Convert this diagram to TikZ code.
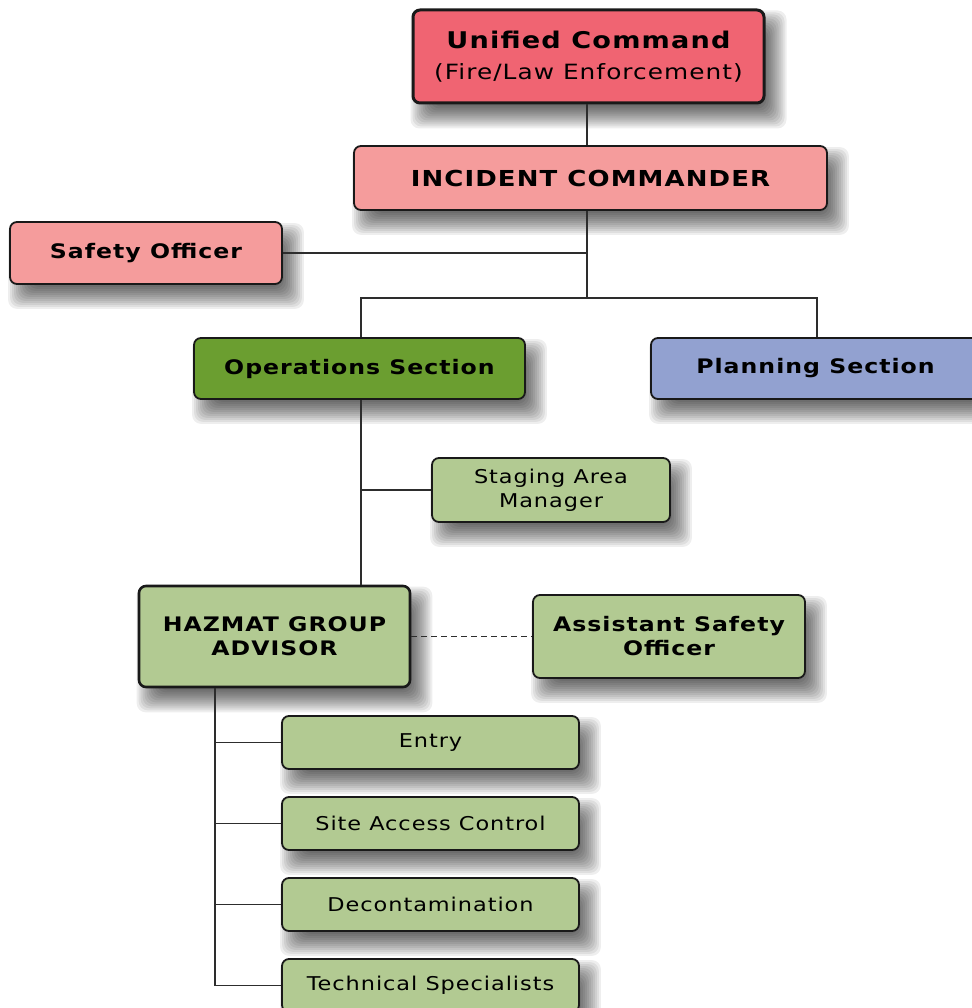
\documentclass[tikz,border=0pt]{standalone}
\usepackage{fontspec}
\setmainfont{DejaVu Sans}[FakeStretch=1.18,LetterSpace=5]
\definecolor{ucred}{RGB}{240,100,114}
\definecolor{pinkbox}{RGB}{245,156,156}
\definecolor{opsgreen}{RGB}{107,158,48}
\definecolor{planblue}{RGB}{146,161,208}
\definecolor{lightgreen}{RGB}{178,202,146}
\definecolor{edge}{RGB}{25,25,25}
\definecolor{wire}{RGB}{45,45,45}
\pgfdeclarelayer{bg}
\pgfsetlayers{bg,main}
\tikzset{
  box/.style={draw=edge, line width=1.8pt, rounded corners=7pt, align=center,
    inner sep=0pt, text=black},
  link/.style={draw=wire, line width=1.8pt},
  bigtxt/.style={font=\fontsize{20}{24}\selectfont\bfseries},
  smalltxt/.style={font=\fontsize{19}{24}\selectfont},
  shadowlayer/.style={fill=black, opacity=0.065, rounded corners=9pt},
}
% soft drop shadow: stacked translucent rounded rectangles, offset right and down
\newcommand\softshadow[1]{%
  \begin{pgfonlayer}{bg}
    \foreach \e in {11,9,...,-11}{
      \path[shadowlayer] ([shift={(10-\e,13-\e)}]#1.north west)
        rectangle ([shift={(10+\e,13+\e)}]#1.south east);
    }
  \end{pgfonlayer}}
\begin{document}
\begin{tikzpicture}[x=1pt,y=-1pt]
  \begin{pgfonlayer}{bg}
    \fill[white] (0,0) rectangle (971,1008);
  \end{pgfonlayer}
  \useasboundingbox (0,0) rectangle (971,1008);

  % command staff
  \node[box, fill=ucred, line width=3pt, minimum width=351pt, minimum height=93pt,
    font=\fontsize{21}{31}\selectfont] (uc) at (588.5,56.5)
    {{\fontsize{23}{31}\selectfont\bfseries Unified Command}\\(Fire/Law Enforcement)};
  \node[box, fill=pinkbox, minimum width=473pt, minimum height=64pt,
    font=\fontsize{22}{24}\selectfont\bfseries] (ic) at (590.5,178) {INCIDENT COMMANDER};
  \node[box, fill=pinkbox, minimum width=272pt, minimum height=62pt, bigtxt] (so) at (146,253) {Safety Officer};

  % sections
  \node[box, fill=opsgreen, minimum width=331pt, minimum height=61pt, bigtxt] (ops) at (359.5,368.5) {Operations Section};
  \node[box, fill=planblue, minimum width=329pt, minimum height=61pt, bigtxt] (plan) at (815.5,368.5) {Planning Section};

  % operations branch
  \node[box, fill=lightgreen, minimum width=238pt, minimum height=64pt, smalltxt] (stg) at (551,490) {Staging Area\\Manager};
  \node[box, fill=lightgreen, line width=2.6pt, minimum width=271pt, minimum height=101pt, bigtxt] (hz) at (274.5,636.5) {HAZMAT GROUP\\ADVISOR};
  \node[box, fill=lightgreen, minimum width=272pt, minimum height=83pt, bigtxt] (aso) at (669,636.5) {Assistant Safety\\Officer};

  % hazmat group units
  \node[box, fill=lightgreen, minimum width=297pt, minimum height=53pt, smalltxt] (entry) at (430.5,742.5) {Entry};
  \node[box, fill=lightgreen, minimum width=297pt, minimum height=53pt, smalltxt] (site) at (430.5,823.5) {Site Access Control};
  \node[box, fill=lightgreen, minimum width=297pt, minimum height=53pt, smalltxt] (decon) at (430.5,904.5) {Decontamination};
  \node[box, fill=lightgreen, minimum width=297pt, minimum height=53pt, smalltxt] (tech) at (430.5,985.5) {Technical Specialists};

  % shadows behind every box
  \foreach \n in {uc,ic,so,ops,plan,stg,hz,aso,entry,site,decon,tech}{\softshadow{\n}}

  % junction points
  \coordinate (j1) at (587,253);
  \coordinate (j2) at (587,298);
  \coordinate (bl) at (361,298);
  \coordinate (br) at (817,298);
  \coordinate (hx) at (215,0);

  % connectors
  \draw[link] (j1 |- uc.south) -- (j1 |- ic.north);
  \draw[link] (j1 |- ic.south) -- (j2);
  \draw[link] (so.east) -- (j1);
  \draw[link] (bl |- ops.north) -- (bl) -- (br) -- (br |- plan.north);
  \draw[link] (bl |- ops.south) -- (bl |- hz.north);
  \draw[link] (bl |- stg.west) -- (stg.west);
  \draw[link, dashed, dash pattern=on 6pt off 4pt] (hz.east) -- (aso.west);
  \draw[link] (hx |- hz.south) -- (hx |- tech.west);
  \draw[link] (hx |- entry.west) -- (entry.west);
  \draw[link] (hx |- site.west) -- (site.west);
  \draw[link] (hx |- decon.west) -- (decon.west);
  \draw[link] (hx |- tech.west) -- (tech.west);
\end{tikzpicture}
\end{document}
